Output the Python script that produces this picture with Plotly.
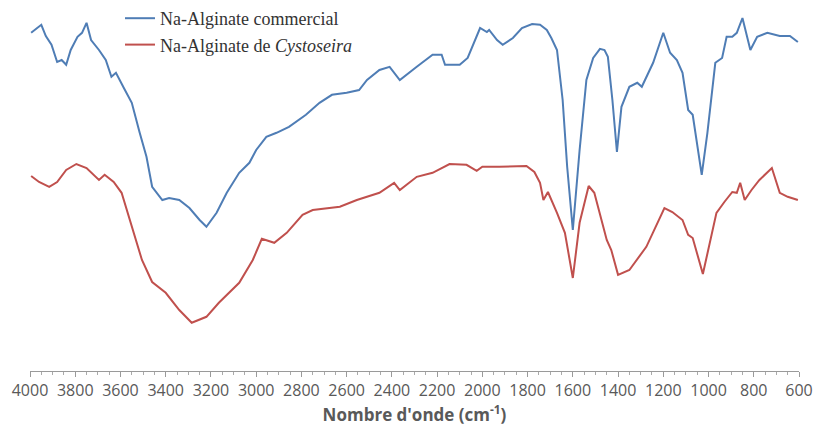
import plotly.graph_objects as go

# FTIR spectra of sodium alginate: wavenumber (cm-1) and transmittance (%)
wn_commercial = [3995, 3950, 3930, 3905, 3880, 3860, 3840, 3820, 3790, 3770, 3750, 3730,
                 3695, 3665, 3640, 3620, 3585, 3550, 3515, 3485, 3460, 3415, 3385, 3340,
                 3295, 3250, 3220, 3175, 3130, 3075, 3030, 3000, 2955, 2910, 2855, 2780,
                 2720, 2665, 2600, 2545, 2510, 2455, 2410, 2365, 2290, 2220, 2180, 2165,
                 2100, 2065, 2010, 1980, 1970, 1935, 1910, 1865, 1825, 1780, 1745, 1715,
                 1695, 1670, 1645, 1625, 1600, 1570, 1540, 1510, 1480, 1460, 1445, 1425,
                 1405, 1385, 1350, 1315, 1295, 1245, 1200, 1170, 1140, 1115, 1090, 1070,
                 1030, 1005, 970, 940, 920, 895, 875, 850, 815, 785, 740, 685, 640, 605]
t_commercial = [91.8, 93.8, 91.0, 88.8, 84.5, 85.0, 83.8, 87.5, 90.8, 91.8, 94.3, 90.0,
                87.5, 85.0, 80.8, 81.8, 78.0, 74.3, 66.8, 60.8, 53.3, 50.0, 50.5, 50.0,
                48.0, 45.0, 43.3, 46.8, 51.8, 56.8, 59.3, 62.5, 65.8, 66.8, 68.3, 71.3,
                74.3, 76.3, 76.8, 77.5, 80.0, 82.5, 83.3, 80.0, 83.3, 86.3, 86.3, 83.8,
                83.8, 85.5, 93.0, 92.0, 92.5, 90.0, 88.8, 90.5, 93.0, 94.0, 93.8, 92.5,
                90.5, 87.5, 75.0, 58.3, 42.5, 62.5, 80.0, 85.5, 87.8, 87.5, 85.8, 75.0,
                62.0, 73.3, 78.3, 79.3, 78.3, 84.3, 91.8, 86.8, 85.0, 81.8, 72.5, 71.3,
                56.3, 66.8, 84.3, 85.5, 90.8, 90.8, 91.8, 95.5, 87.5, 90.8, 91.8, 91.0,
                91.0, 89.5]

wn_cystoseira = [3995, 3960, 3915, 3880, 3840, 3795, 3750, 3695, 3670, 3630, 3595, 3550,
                 3505, 3460, 3400, 3340, 3285, 3220, 3165, 3075, 3015, 2975, 2920, 2865,
                 2795, 2750, 2630, 2555, 2455, 2390, 2365, 2290, 2220, 2145, 2070, 2025,
                 2000, 1925, 1805, 1770, 1745, 1730, 1710, 1670, 1635, 1600, 1570, 1530,
                 1505, 1450, 1430, 1400, 1350, 1275, 1195, 1160, 1115, 1090, 1070, 1025,
                 985, 965, 930, 895, 875, 860, 840, 810, 775, 720, 685, 650, 605]
t_cystoseira = [56.0, 54.5, 53.3, 54.5, 57.5, 59.0, 58.0, 55.0, 56.3, 54.5, 51.8, 43.3,
                35.0, 29.5, 26.8, 22.5, 19.3, 20.8, 24.3, 29.3, 35.0, 40.3, 39.3, 41.8,
                46.3, 47.5, 48.3, 50.0, 51.8, 54.3, 52.5, 55.8, 56.8, 59.0, 58.8, 57.3,
                58.3, 58.3, 58.5, 57.0, 54.3, 50.0, 52.0, 46.8, 41.8, 30.5, 44.3, 53.5,
                51.8, 40.0, 37.5, 31.3, 32.5, 38.3, 48.0, 47.0, 45.0, 41.3, 40.5, 31.5,
                41.8, 46.8, 49.5, 52.0, 51.8, 54.3, 50.0, 52.5, 55.0, 58.0, 51.8, 50.8, 50.0]

names = ["Na-Alginate commercial", "Na-Alginate de <i>Cystoseira</i>"]
colors = ["#4F7DB5", "#C0504D"]

fig = go.Figure()
for wn, t, name, color in zip([wn_commercial, wn_cystoseira],
                              [t_commercial, t_cystoseira], names, colors):
    fig.add_trace(go.Scatter(x=wn, y=t, mode="lines", name=name,
                             line=dict(color=color, width=2)))

fig.update_layout(
    width=815, height=427,
    margin=dict(l=30, r=16, t=0, b=56),
    paper_bgcolor="white", plot_bgcolor="white",
    showlegend=True,
    legend=dict(x=0.117, y=1.0, xanchor="left", yanchor="top",
                bgcolor="rgba(0,0,0,0)", tracegroupgap=0,
                font=dict(family="Liberation Serif", size=18, color="#333333")),
    xaxis=dict(
        range=[4000, 600], tick0=600, dtick=200,
        showgrid=False, zeroline=False,
        showline=True, linecolor="#9a9a9a", linewidth=1,
        ticks="outside", ticklen=5, tickcolor="#9a9a9a",
        minor=dict(dtick=50, ticks="outside", ticklen=3, tickcolor="#aaaaaa"),
        tickfont=dict(family="Open Sans", size=16, color="#595959"),
        title=dict(text="Nombre d'onde (cm<sup>-1</sup>)", standoff=2,
                   font=dict(family="Open Sans", size=17, color="#595959",
                             weight="bold")),
    ),
    yaxis=dict(range=[7.25, 100], visible=False),
)

fig.write_html("out.html")
